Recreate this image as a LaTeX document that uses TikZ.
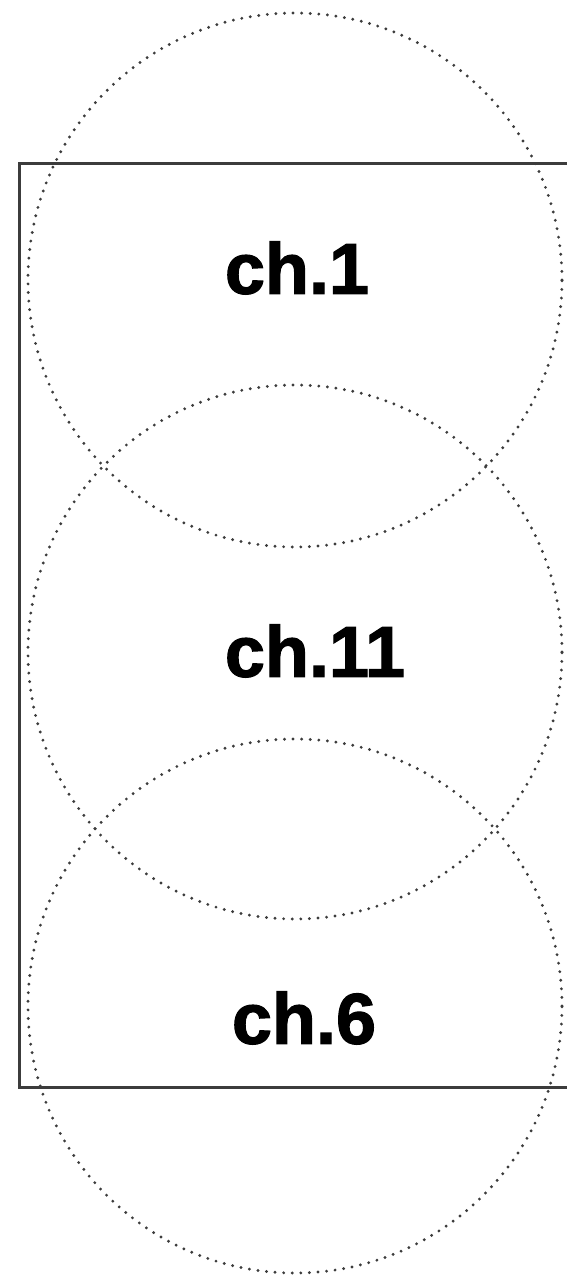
\documentclass[tikz,border=0pt]{standalone}
\usepackage{fontspec}
\setmainfont{Liberation Sans}
\newfontfamily\chanfont[BoldFeatures={FakeBold=1.6}]{Liberation Sans}
\usetikzlibrary{positioning}
\definecolor{framegray}{RGB}{60,60,60}
\definecolor{dotgray}{RGB}{60,60,60}
\tikzset{
  frame/.style={draw=framegray,line width=3pt},
  cell/.style={draw=dotgray,circle,minimum size=534pt,inner sep=0pt,
               line width=3.2pt,line cap=round,dash pattern=on 0pt off 8.6pt},
  chan/.style={font=\fontsize{72}{72}\chanfont\bfseries,inner sep=0pt},
}
\begin{document}
\begin{tikzpicture}[x=1pt,y=-1pt]
  \useasboundingbox (0,0) rectangle (567,1275);
  \clip (0,0) rectangle (567,1275);
  % room outline
  \draw[frame] (19,163) rectangle (600,1087);
  % coverage of the three access points
  \node[cell] (C1) at (295,280) {};
  \node[cell] (C2) at (295,652) {};
  \node[cell] (C3) at (295,1006) {};
  \node[chan] (L1) at (297,268) {ch.1};
  \node[chan] (L2) at (315,651) {ch.11};
  \node[chan] (L3) at (304,1018) {ch.6};
\end{tikzpicture}
\end{document}
